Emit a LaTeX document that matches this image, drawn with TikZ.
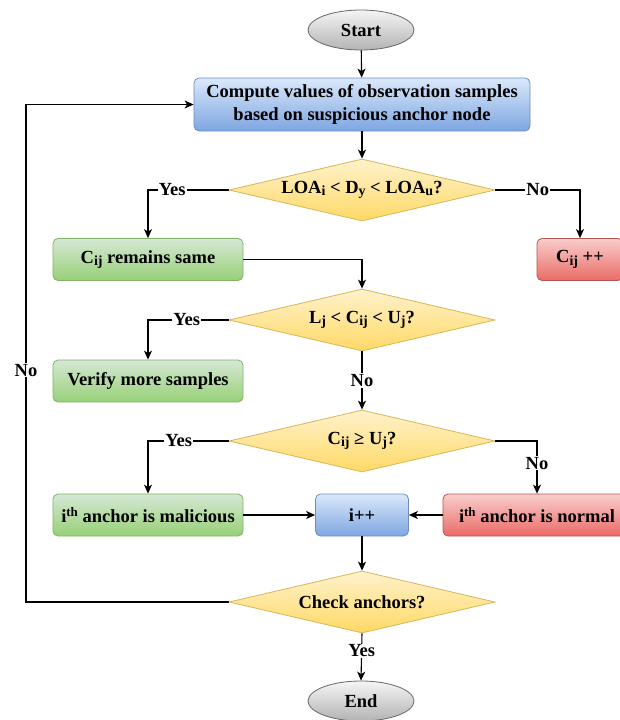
\documentclass[tikz,border=0pt]{standalone}
\usepackage{fontspec}
\setmainfont{Liberation Serif}
\usetikzlibrary{shapes.geometric,arrows.meta}
\definecolor{bluetop}{HTML}{DAE8FC}
\definecolor{bluebot}{HTML}{7EA6E0}
\definecolor{blueline}{HTML}{6C8EBF}
\definecolor{greentop}{HTML}{D5E8D4}
\definecolor{greenbot}{HTML}{97D077}
\definecolor{greenline}{HTML}{82B366}
\definecolor{redtop}{HTML}{F8CECC}
\definecolor{redbot}{HTML}{EA6B66}
\definecolor{redline}{HTML}{B85450}
\definecolor{yeltop}{HTML}{FFF2CC}
\definecolor{yelbot}{HTML}{FFD966}
\definecolor{yelline}{HTML}{D6B656}
\definecolor{graytop}{HTML}{F5F5F5}
\definecolor{graybot}{HTML}{B3B3B3}
\definecolor{grayline}{HTML}{666666}
\newcommand\lowtext[1]{\raisebox{-0.3ex}{\fontsize{14}{14}\selectfont #1}}
\newcommand\hightext[1]{\raisebox{0.75ex}{\fontsize{13}{13}\selectfont #1}}
\tikzset{
	every node/.style={font=\fontsize{18.5}{23}\selectfont\bfseries, align=center},
	box/.style={rectangle, rounded corners=5pt, line width=0.8pt, minimum height=42pt, inner sep=2pt},
	bluebox/.style={box, draw=blueline, top color=bluetop, bottom color=bluebot},
	greenbox/.style={box, draw=greenline, top color=greentop, bottom color=greenbot, minimum width=190pt},
	redbox/.style={box, draw=redline, top color=redtop, bottom color=redbot},
	cond/.style={diamond, aspect=4.3, line width=0.8pt, draw=yelline, top color=yeltop, bottom color=yelbot, minimum width=266pt, minimum height=62pt, inner sep=1pt},
	term/.style={ellipse, line width=0.8pt, draw=grayline, top color=graytop, bottom color=graybot, minimum width=106pt, minimum height=40pt},
	flow/.style={-{Stealth[length=9pt,width=8pt,inset=2.5pt]}, line width=1.1pt},
	lbl/.style={fill=white, inner sep=1pt},
}

\begin{document}
\begin{tikzpicture}[x=1pt, y=-1pt]
		%%%%% START %%%%%
		\useasboundingbox (0, 0) rectangle (620, 720);
		
		\node[term] (start) at (361, 30) {Start};
		\node[bluebox, minimum width=336pt, minimum height=53pt] (comp) at (362, 104.5) {Compute values of observation samples\\based on suspicious anchor node};
		
		\node[cond] (loa) at (362, 190) {LOA\lowtext{i} < D\lowtext{y} < LOA\lowtext{u}?};
		\node[greenbox] (same) at (148, 259.5) {C\lowtext{ij} remains same};
		\node[redbox, minimum width=86pt] (incr) at (580, 259.5) {C\lowtext{ij} ++};
		
		\node[cond] (range) at (362, 320) {L\lowtext{j} < C\lowtext{ij} < U\lowtext{j}?};
		\node[greenbox] (verify) at (148, 381) {Verify more samples};
		
		\node[cond] (upper) at (362, 441) {C\lowtext{ij} ≥ U\lowtext{j}?};
		\node[greenbox] (mal) at (148, 515) {i\hightext{th} anchor is malicious};
		\node[bluebox, minimum width=93pt] (next) at (362, 515) {i++};
		\node[redbox, minimum width=188pt] (norm) at (537, 515) {i\hightext{th} anchor is normal};
		
		\node[cond] (check) at (362, 602) {Check anchors?};
		\node[term] (stop) at (361, 701) {End};
		
		\coordinate (back) at (26, 602);
		
		\draw[flow] (start) -- (comp);
		\draw[flow] (comp) -- (loa);
		\draw[flow] (loa.west) -| node[lbl, pos=0.35] {Yes} (same.north);
		\draw[flow] (loa.east) -| node[lbl, pos=0.25] {No} (incr.north);
		\draw[flow] (same.east) -| (range.north);
		
		\draw[flow] (range.west) -| node[lbl, pos=0.26] {Yes} (verify.north);
		\draw[flow] (range.south) -- node[lbl] {No} (upper.north);
		
		\draw[flow] (upper.west) -| node[lbl, pos=0.31] {Yes} (mal.north);
		\draw[flow] (upper.east) -| node[lbl, pos=0.71] {No} (norm.north);
		\draw[flow] (mal) -- (next);
		\draw[flow] (norm) -- (next);
		\draw[flow] (next) -- (check);
		
		\draw[flow] (check.west) -- (back) |- node[lbl, pos=0.233] {No} (comp.west);
		\draw[flow] (check.south) -- node[lbl, pos=0.37] {Yes} (stop.north);
		%%%%% END %%%%%
\end{tikzpicture}
\end{document}
